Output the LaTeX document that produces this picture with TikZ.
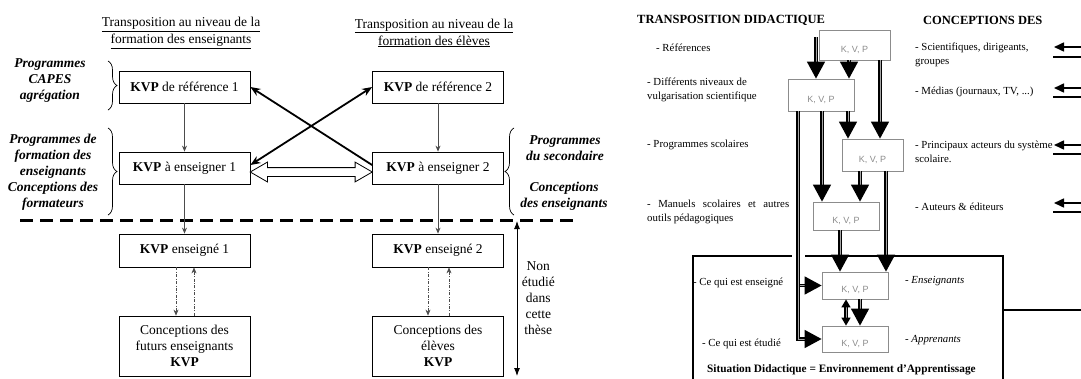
\documentclass[tikz,border=0pt]{standalone}
\usepackage{fontspec}
\setmainfont{Liberation Serif}
\setsansfont{Liberation Sans}
\usetikzlibrary{arrows.meta,decorations.pathreplacing,shapes.arrows}

\definecolor{kvpgray}{rgb}{0.55,0.55,0.55}
\newcommand{\kvptext}{\raisebox{-4pt}[0.7em][0pt]{K, V, P}}

\begin{document}
\begin{tikzpicture}[x=1pt, y=-1pt,
  kvpbox/.style={draw, line width=0.8pt, minimum width=131pt, minimum height=32pt, inner sep=2pt, align=center, font=\fontsize{13.5}{16}\selectfont},
  head/.style={align=center, font=\fontsize{13.5}{17}\selectfont},
  plain/.style={align=center, font=\fontsize{13.5}{16}\selectfont},
  bracelab/.style={align=center, font=\fontsize{13.5}{16}\selectfont\bfseries\itshape},
  bracket/.style={decorate, decoration={brace, amplitude=9pt}, line width=0.7pt},
  thinarrow/.style={draw=black!70, line width=0.7pt, -{Stealth[length=6pt,width=5pt]}},
  crossarrow/.style={line width=1.8pt, -{Stealth[length=10pt,width=8pt]}},
  backarrow/.style={draw=black!70, line width=0.6pt, dash pattern=on 3pt off 1.5pt on 0.8pt off 1.5pt, -{Stealth[length=6pt,width=5pt]}},
  kvpsmall/.style={draw=kvpgray, line width=0.8pt, fill=white, text=kvpgray, inner sep=0pt, font=\sffamily\fontsize{9}{10}\selectfont},
  fatarrow/.style={line width=1.5pt, double=black!35, double distance=0.7pt, -{Triangle[length=17pt,width=18pt]}},
  item/.style={anchor=west, inner sep=0pt, align=left, font=\fontsize{10.8}{14}\selectfont},
  frameline/.style={line width=2.8pt, line join=miter},
  sidearrow/.style={line width=1.6pt, -{Triangle[length=10pt,width=9pt]}}]
  \useasboundingbox (0,0) rectangle (1081,378);
  \clip (0,0) rectangle (1081,378);

  % transposition, left part
  \node[head] (tit1) at (181,33) {\underline{Transposition au niveau de la}\\\underline{formation des enseignants}};
  \node[head] (tit2) at (434,33) {\underline{Transposition au niveau de la}\\\underline{formation des élèves}};

  \node[kvpbox] (ref1) at (184.5,87) {\textbf{KVP} de référence 1};
  \node[kvpbox] (ens1) at (184.5,168) {\textbf{KVP} à enseigner 1};
  \node[kvpbox] (ref2) at (438,87) {\textbf{KVP} de référence 2};
  \node[kvpbox] (ens2) at (438,168) {\textbf{KVP} à enseigner 2};
  \node[kvpbox, minimum height=33pt] (tau1) at (184.5,250.5) {\textbf{KVP} enseigné 1};
  \node[kvpbox, minimum height=33pt] (tau2) at (438,250.5) {\textbf{KVP} enseigné 2};
  \node[kvpbox, minimum height=60pt] (conc1) at (184.5,346) {Conceptions des\\futurs enseignants\\\textbf{KVP}};
  \node[kvpbox, minimum height=60pt] (conc2) at (438,346) {Conceptions des\\élèves\\\textbf{KVP}};

  \draw[bracket] (108,61) -- (108,110);
  \draw[bracket] (108,128) -- (108,215);
  \draw[bracket] (514,215) -- (514,128);
  \node[bracelab] (capes) at (50,81) {Programmes\\CAPES\\agrégation};
  \node[bracelab] (progform) at (53,172) {Programmes de\\formation des\\enseignants\\Conceptions des\\formateurs};
  \node[bracelab] (progsec) at (565,148) {Programmes\\du secondaire};
  \node[bracelab] (concens) at (564,196) {Conceptions\\des enseignants};

  \coordinate (cutw) at (20,220);
  \coordinate (cute) at (578,220);
  \draw[line width=3pt, dash pattern=on 13pt off 7pt] (cutw) -- (cute);

  \draw[thinarrow] (ref1) -- (ens1);
  \draw[thinarrow] (ref2) -- (ens2);
  \draw[thinarrow] (ens1) -- (tau1);
  \draw[thinarrow] (ens2) -- (tau2);
  \draw[crossarrow] ([yshift=3pt]ens2.west) -- (ref1.east);
  \draw[crossarrow, {Stealth[length=10pt,width=8pt]}-{Stealth[length=10pt,width=8pt]}] ([yshift=3pt]ens1.east) -- (ref2.west);
  \path (ens1.east) -- (ens2.west) node[midway, yshift=-4pt, double arrow, draw, line width=0.8pt, fill=white, inner xsep=0pt, inner ysep=4pt, minimum height=122pt, double arrow head extend=5.5pt, double arrow tip angle=60] (exch) {};

  \draw[backarrow] ([xshift=-8.5pt]tau1.south) -- ([xshift=-8.5pt]conc1.north);
  \draw[backarrow] ([xshift=9.5pt]conc1.north) -- ([xshift=9.5pt]tau1.south);
  \draw[backarrow] ([xshift=-10pt]tau2.south) -- ([xshift=-10pt]conc2.north);
  \draw[backarrow] ([xshift=11pt]conc2.north) -- ([xshift=11pt]tau2.south);

  \coordinate (nstop) at (517,221);
  \coordinate (nsbot) at (517,376);
  \draw[line width=0.9pt, {Latex[length=8pt,width=6pt]}-{Latex[length=8pt,width=6pt]}] (nstop) -- (nsbot) node[midway, right=1pt, plain] (nonetud) {Non\\étudié\\dans\\cette\\thèse};

  % transposition didactique, right part
  \node[item, font=\bfseries\fontsize{12.5}{14}\selectfont] (ttd) at (637,20) {TRANSPOSITION DIDACTIQUE};
  \node[item, font=\bfseries\fontsize{12.5}{14}\selectfont] (tcd) at (923,20) {CONCEPTIONS DES};

  \node[item] (lref) at (656,48) {- Références};
  \node[item] (lvulg) at (647,90) {- Différents niveaux de\\vulgarisation scientifique};
  \node[item] (lprog) at (647,145) {- Programmes scolaires};
  \node[item] (lman) at (647,212) {\makebox[142pt][s]{- Manuels scolaires et autres}\\outils pédagogiques};
  \node[item] (rsci) at (915,55) {- Scientifiques, dirigeants,\\groupes};
  \node[item] (rmed) at (915,92) {- Médias (journaux, TV, ...)};
  \node[item] (ract) at (915,152) {- Principaux acteurs du système\\scolaire.};
  \node[item] (raut) at (915,207) {- Auteurs \& éditeurs};
  \node[item, font=\itshape\fontsize{10.8}{14}\selectfont] (rens) at (905,281) {- Enseignants};
  \node[item, font=\itshape\fontsize{10.8}{14}\selectfont] (rapp) at (905,340) {- Apprenants};
  \node[item] (lens) at (693,283) {- Ce qui est enseigné};
  \node[item] (letu) at (702,344) {- Ce qui est étudié};
  \node[item, font=\bfseries\fontsize{11.3}{14}\selectfont] (sitdid) at (707,370) {Situation Didactique = Environnement d’Apprentissage};

  \coordinate (fr1) at (693,395);
  \coordinate (fr2) at (693,256);
  \coordinate (fr3) at (792,256);
  \coordinate (fr4) at (805,256);
  \coordinate (fr5) at (1003,256);
  \coordinate (fr6) at (1003,395);
  \coordinate (fr7) at (1003,310);
  \coordinate (fr8) at (1095,310);
  \draw[frameline] (fr1) -- (fr2) -- (fr3);
  \draw[frameline] (fr4) -- (fr5) -- (fr6);
  \draw[frameline] (fr7) -- (fr8);

  \node[kvpsmall, minimum width=71pt, minimum height=30pt] (kb1) at (854.5,45) {\kvptext};
  \node[kvpsmall, minimum width=66pt, minimum height=32pt] (kb2) at (821,95) {\kvptext};
  \node[kvpsmall, minimum width=61pt, minimum height=32pt] (kb3) at (872.5,155) {\kvptext};
  \node[kvpsmall, minimum width=66pt, minimum height=28pt] (kb4) at (846,216) {\kvptext};
  \node[kvpsmall, minimum width=66pt, minimum height=27pt] (kb5) at (855,285.5) {\kvptext};
  \node[kvpsmall, minimum width=66pt, minimum height=26pt] (kb6) at (855,339) {\kvptext};

  \coordinate (refin) at (816,37);
  \draw[fatarrow] (refin) -- ([xshift=-5pt]kb2.north);
  \draw[fatarrow] ([xshift=-5.5pt]kb1.south) -- ([xshift=28pt]kb2.north);
  \draw[fatarrow] ([xshift=25.5pt]kb1.south) -- ([xshift=7.5pt]kb3.north);
  \draw[fatarrow] ([xshift=27pt]kb2.south) -- ([xshift=-24.5pt]kb3.north);
  \draw[fatarrow] ([xshift=1pt]kb2.south) -- ([xshift=-24pt]kb4.north);
  \draw[fatarrow] ([xshift=-12.5pt]kb3.south) -- ([xshift=14pt]kb4.north);
  \draw[fatarrow] ([xshift=13.5pt]kb3.south) -- ([xshift=31pt]kb5.north);
  \draw[fatarrow] ([xshift=-6pt]kb4.south) -- ([xshift=-15pt]kb5.north);
  \draw[fatarrow] ([xshift=-23pt]kb2.south) |- (kb5.west);
  \draw[fatarrow] ([xshift=-23pt]kb2.south) |- (kb6.west);
  \draw[fatarrow, {Triangle[length=8pt,width=9pt]}-{Triangle[length=8pt,width=9pt]}] ([xshift=-9pt]kb5.south) -- ([xshift=-9pt]kb6.north);
  \draw[fatarrow] ([xshift=5pt]kb5.south) -- ([xshift=5pt]kb6.north);

  % arrows to the right margin
  \coordinate (sci1) at (1095,47);  \coordinate (sci2) at (1054,47);
  \coordinate (sci3) at (1053,57);  \coordinate (sci4) at (1093,57);
  \coordinate (med1) at (1095,88);  \coordinate (med2) at (1054,88);
  \coordinate (med3) at (1053,97);  \coordinate (med4) at (1093,97);
  \coordinate (act1) at (1095,145); \coordinate (act2) at (1054,145);
  \coordinate (act3) at (1053,154); \coordinate (act4) at (1093,154);
  \coordinate (aut1) at (1095,203); \coordinate (aut2) at (1054,203);
  \coordinate (aut3) at (1053,212); \coordinate (aut4) at (1093,212);
  \draw[sidearrow] (sci1) -- (sci2);
  \draw[sidearrow] (sci3) -- (sci4);
  \draw[sidearrow] (med1) -- (med2);
  \draw[sidearrow] (med3) -- (med4);
  \draw[sidearrow] (act1) -- (act2);
  \draw[sidearrow] (act3) -- (act4);
  \draw[sidearrow] (aut1) -- (aut2);
  \draw[sidearrow] (aut3) -- (aut4);
\end{tikzpicture}
\end{document}
